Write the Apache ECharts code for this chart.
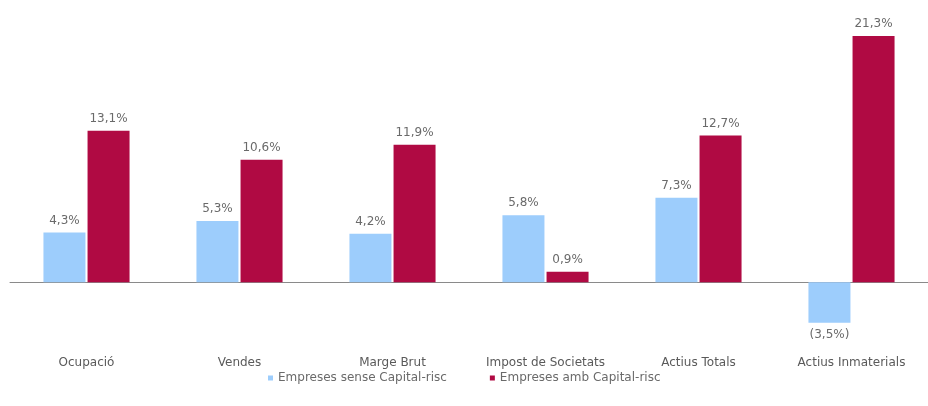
<!DOCTYPE html>
<html><head><meta charset="utf-8">
<script src="https://cdn.jsdelivr.net/npm/echarts@6/dist/echarts.min.js"></script>
<style>html,body{margin:0;padding:0;background:#fff}#c{width:928px;height:406px}</style>
</head><body><div id="c"></div>
<script>
var categories = ['Ocupació','Vendes','Marge Brut','Impost de Societats','Actius Totals','Actius Inmaterials'];
var seriesNames = ['Empreses sense Capital-risc','Empreses amb Capital-risc'];
var senseValues = [4.3, 5.3, 4.2, 5.8, 7.3, -3.5];
var ambValues = [13.1, 10.6, 11.9, 0.9, 12.7, 21.3];

var FONT = 'DejaVu Sans, Verdana, sans-serif';
function fmt(p){
  var v = p.value;
  var s = Math.abs(v).toFixed(1).replace('.', ',') + '%';
  return v < 0 ? '(' + s + ')' : s;
}
function lbl(pos){ return {show:true, position:pos, distance:6, color:'#6a6a6a', fontSize:12, fontFamily:FONT, formatter: fmt}; }
var chart = echarts.init(document.getElementById('c'));
chart.setOption({
  animation:false,
  grid:{left:10, right:0, top:28, bottom:66, containLabel:false},
  legend:{bottom:17, left:263, itemWidth:5, itemHeight:5, itemGap:43, icon:'rect',
    textStyle:{color:'#6a6a6a', fontSize:12, fontFamily:FONT}, data:seriesNames},
  xAxis:[
    {type:'category', data:categories, axisLine:{onZero:true, lineStyle:{color:'#8a8a8a'}}, axisTick:{show:false}, axisLabel:{show:false}},
    {type:'category', data:categories, position:'bottom', axisLine:{show:false}, axisTick:{show:false},
      axisLabel:{color:'#5a5a5a', fontSize:12, margin:17, interval:0, hideOverlap:false, fontFamily:FONT}}
  ],
  yAxis:{type:'value', min:-5, max:22, show:false, splitLine:{show:false}},
  series:[
    {name:seriesNames[0], type:'bar', barWidth:42, barGap:'5%', itemStyle:{color:'#9dcdfc'},
      label:lbl('top'),
      data:senseValues.map(function(v){ return v < 0 ? {value:v, label:{position:'bottom'}} : v; })},
    {name:seriesNames[1], type:'bar', data:ambValues, barWidth:42, barGap:'5%', itemStyle:{color:'#b00a43'}, label:lbl('top')}
  ]
});
</script></body></html>
